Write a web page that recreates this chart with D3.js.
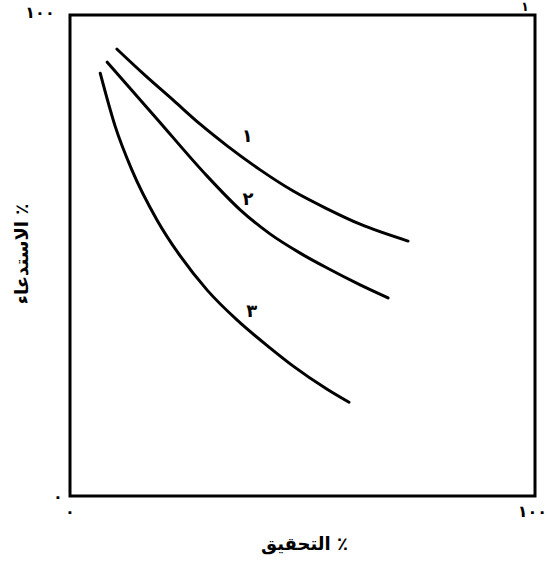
<!DOCTYPE html>
<html>
<head>
<meta charset="utf-8">
<style>
  body { margin: 0; background: #fff; }
  text { font-family: "DejaVu Sans", sans-serif; font-weight: bold; fill: #000; }
</style>
</head>
<body>
<script src="https://d3js.org/d3.v7.min.js"></script>
<script>

  // precision (%) on x, recall (%) on y
  var curveNames = ["1", "2", "3"];

  var curve1 = [[10.1, 92.9], [16.1, 87.5], [22.2, 82.3], [28.0, 77.3], [33.8, 72.8],
                [40.9, 67.8], [48.0, 63.4], [55.3, 59.7], [62.4, 56.5], [72.7, 53.0]];
  var curve2 = [[8.0, 90.2], [18.7, 78.4], [29.5, 66.5], [36.6, 59.5], [43.0, 54.5],
                [49.5, 50.5], [55.3, 47.4], [62.4, 43.9], [68.4, 41.2]];
  var curve3 = [[6.5, 87.9], [9.7, 76.9], [13.3, 67.8], [18.7, 57.4], [23.7, 49.9],
                [29.5, 42.8], [35.9, 36.6], [43.0, 30.8], [48.0, 27.0], [55.3, 22.2],
                [60.0, 19.5]];

  // where each curve number sits
  var labelPos = [[38.1, 75.1], [38.3, 62.0], [39.1, 38.7]];

  var axisTicks = [0, 100];
  var xTitle = "٪ التحقيق";
  var yTitle = "٪ الاستدعاء";

  var width = 548;
  var height = 562;
  var margin = {left: 70, right: 13, top: 15, bottom: 66};

  var arabicDigits = "٠١٢٣٤٥٦٧٨٩";
  function toArabic(n) {
    return String(n).replace(/[0-9]/g, function (c) { return arabicDigits[+c]; });
  }

  var x = d3.scaleLinear()
      .domain([0, 100])
      .range([margin.left, width - margin.right]);

  var y = d3.scaleLinear()
      .domain([0, 100])
      .range([height - margin.bottom, margin.top]);

  var svg = d3.select("body")
      .append("svg")
      .attr("width", width)
      .attr("height", height);

  // frame

  svg.append("rect")
      .attr("x", x(0))
      .attr("y", y(100))
      .attr("width", x(100) - x(0))
      .attr("height", y(0) - y(100))
      .attr("fill", "none")
      .attr("stroke", "#000")
      .attr("stroke-width", 3);

  // tick labels at the corners

  svg.append("text")
      .attr("x", x(0) - 30)
      .attr("y", y(100) + 3)
      .attr("text-anchor", "middle")
      .style("font-size", "16px")
      .text(toArabic(axisTicks[1]));

  svg.append("text")
      .attr("x", x(0) - 12)
      .attr("y", y(0) + 6)
      .attr("text-anchor", "middle")
      .style("font-size", "16px")
      .text(toArabic(axisTicks[0]));

  svg.append("text")
      .attr("x", x(0))
      .attr("y", y(0) + 21)
      .attr("text-anchor", "middle")
      .style("font-size", "16px")
      .text(toArabic(axisTicks[0]));

  svg.append("text")
      .attr("x", width - 1)
      .attr("y", y(0) + 21)
      .attr("text-anchor", "end")
      .style("font-size", "16px")
      .text(toArabic(axisTicks[1]));

  svg.append("text")
      .attr("x", x(100) - 10)
      .attr("y", 11)
      .attr("text-anchor", "middle")
      .style("font-size", "13px")
      .text(toArabic(1));

  // curves

  var line = d3.line()
      .x(function (d) { return x(d[0]); })
      .y(function (d) { return y(d[1]); })
      .curve(d3.curveMonotoneX);

  svg.selectAll(".curve")
      .data([curve1, curve2, curve3])
      .enter()
        .append("path")
        .attr("class", "curve")
        .attr("d", line)
        .attr("fill", "none")
        .attr("stroke", "#000")
        .attr("stroke-width", 3)
        .attr("stroke-linecap", "round");

  svg.selectAll(".clabel")
      .data(curveNames)
      .enter()
        .append("text")
        .attr("class", "clabel")
        .attr("x", function (d, i) { return x(labelPos[i][0]); })
        .attr("y", function (d, i) { return y(labelPos[i][1]) + 7; })
        .attr("text-anchor", "middle")
        .style("font-size", "18px")
        .text(function (d) { return toArabic(d); });

  // axis titles

  svg.append("text")
      .attr("x", (x(0) + x(100)) / 2 + 2)
      .attr("y", 550)
      .attr("text-anchor", "middle")
      .attr("direction", "rtl")
      .style("font-size", "18px")
      .text(xTitle);

  svg.append("text")
      .attr("transform", "translate(28," + 254 + ") rotate(-90)")
      .attr("text-anchor", "middle")
      .attr("direction", "rtl")
      .style("font-size", "18px")
      .text(yTitle);

</script>
</body>
</html>
